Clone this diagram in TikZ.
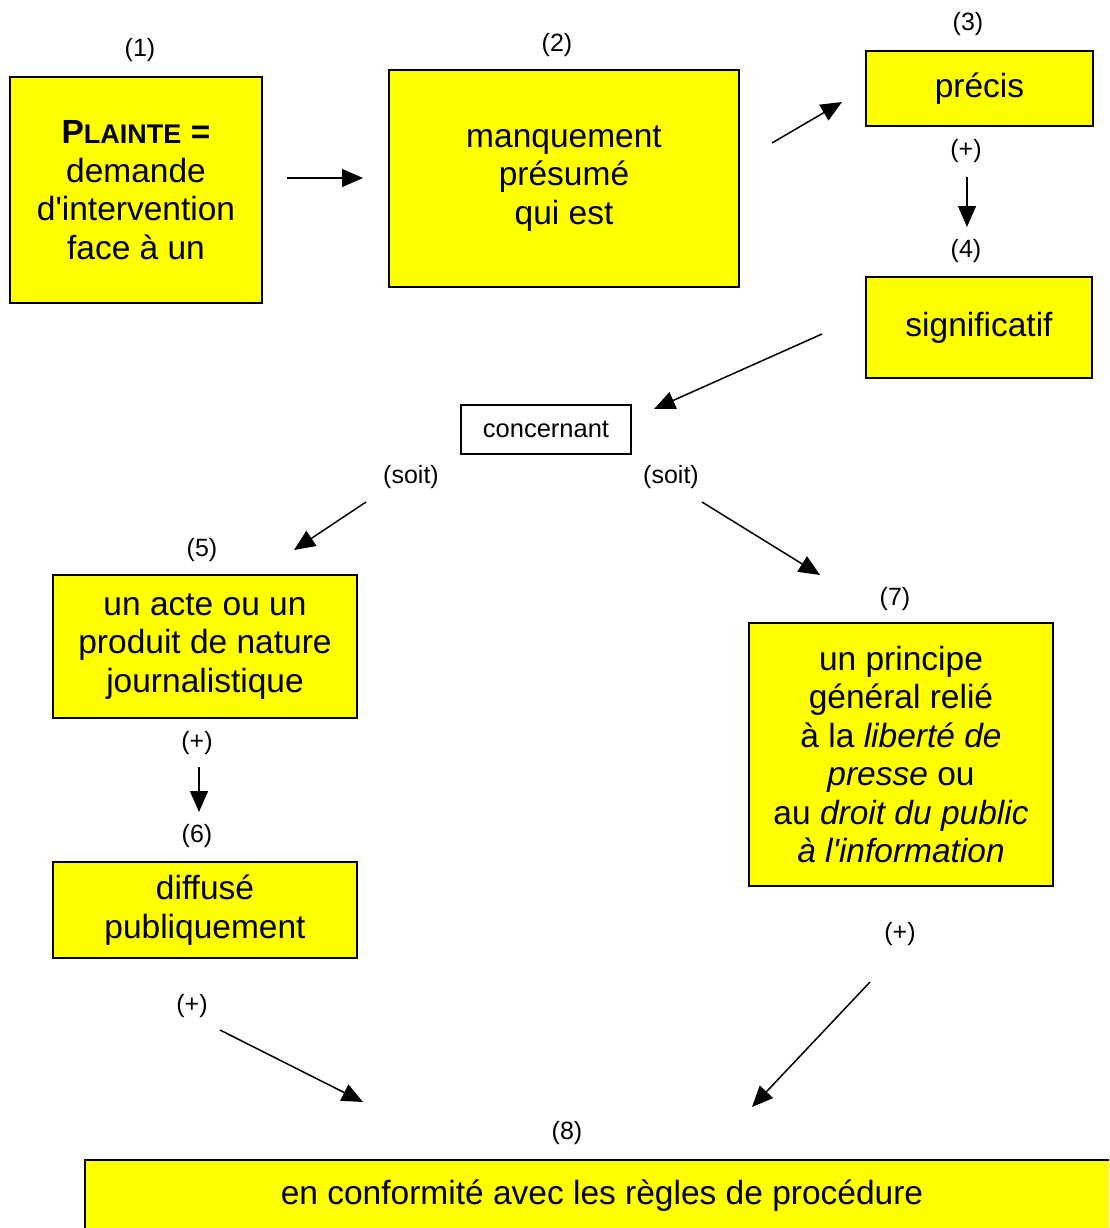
\documentclass[tikz,border=0pt]{standalone}
\usepackage{fontspec}
\setmainfont{Liberation Sans}
\usetikzlibrary{arrows.meta}
\definecolor{boxyellow}{RGB}{255,255,0}
\begin{document}
\begin{tikzpicture}[x=1pt,y=-1pt,
  box/.style={draw=black, line width=1.6pt, fill=boxyellow, align=center, inner sep=0pt,
    font=\fontsize{33.5}{38.5}\selectfont},
  lbl/.style={font=\fontsize{25}{30}\selectfont, inner sep=0pt},
  arr/.style={-{Triangle[length=21pt,width=18pt]}, line width=1.5pt}]
\useasboundingbox (0,0) rectangle (1109,1228);
\clip (0,0) rectangle (1109,1228);

% boxes
\node[box, minimum width=252pt, minimum height=226pt] (b1) at (136,190)
  {{\bfseries P{\fontsize{27}{38.5}\selectfont LAINTE} =}\\demande\\d\textquotesingle intervention\\face à un};
\node[box, minimum width=350pt, minimum height=217pt] (b2) at (564,178.5)
  {manquement\\présumé\\qui est};
\node[box, minimum width=227pt, minimum height=75pt] (b3) at (979.5,88.5) {précis};
\node[box, minimum width=226pt, minimum height=101pt] (b4) at (979,327.5) {significatif};
\node[draw=black, line width=1.3pt, minimum width=170pt, minimum height=49pt, inner sep=0pt,
  font=\fontsize{25.5}{30}\selectfont] (conc) at (546,429.5) {concernant};
\node[box, minimum width=304pt, minimum height=143pt] (b5) at (205,646.5)
  {un acte ou un\\produit de nature\\journalistique};
\node[box, minimum width=304pt, minimum height=96pt] (b6) at (205,910)
  {diffusé\\publiquement};
\node[box, minimum width=304pt, minimum height=263pt] (b7) at (901,754.5)
  {un principe\\général relié\\à la \textit{liberté de}\\\textit{presse} ou\\au \textit{droit du public}\\\textit{à l\textquotesingle information}};
\node[box, minimum width=1034pt, minimum height=72pt] (b8) at (602,1196)
  {en conformité avec les règles de procédure};

% labels
\node[lbl] (l1) at (140,50) {(1)};
\node[lbl] (l2) at (557,45) {(2)};
\node[lbl] (l3) at (968,24) {(3)};
\node[lbl] (p34) at (966,151) {(+)};
\node[lbl] (l4) at (966,251) {(4)};
\node[lbl] (soitL) at (411,477) {(soit)};
\node[lbl] (soitR) at (671,477) {(soit)};
\node[lbl] (l5) at (202,550) {(5)};
\node[lbl] (p56) at (197,743) {(+)};
\node[lbl] (l6) at (197,836) {(6)};
\node[lbl] (l7) at (895,599) {(7)};
\node[lbl] (p68) at (192,1006) {(+)};
\node[lbl] (p78) at (900,934) {(+)};
\node[lbl] (l8) at (567,1133) {(8)};

% arrow end points
\coordinate (a12s) at (287,178);  \coordinate (a12e) at (363,178);
\coordinate (a23s) at (772,143);  \coordinate (a23e) at (842,102);
\coordinate (a34s) at (967,177);  \coordinate (a34e) at (967,227);
\coordinate (a4cs) at (822,334);  \coordinate (a4ce) at (654,409);
\coordinate (aLs) at (366,502);   \coordinate (aLe) at (294,550);
\coordinate (aRs) at (702,502);   \coordinate (aRe) at (820,575);
\coordinate (a56s) at (199,767);  \coordinate (a56e) at (199,812);
\coordinate (a68s) at (220,1030); \coordinate (a68e) at (363,1102);
\coordinate (a78s) at (870,982);  \coordinate (a78e) at (752,1107);

\draw[arr] (a12s) -- (a12e);
\draw[arr] (a23s) -- (a23e);
\draw[arr] (a34s) -- (a34e);
\draw[arr] (a4cs) -- (a4ce);
\draw[arr] (aLs) -- (aLe);
\draw[arr] (aRs) -- (aRe);
\draw[arr] (a56s) -- (a56e);
\draw[arr] (a68s) -- (a68e);
\draw[arr] (a78s) -- (a78e);
\end{tikzpicture}
\end{document}
